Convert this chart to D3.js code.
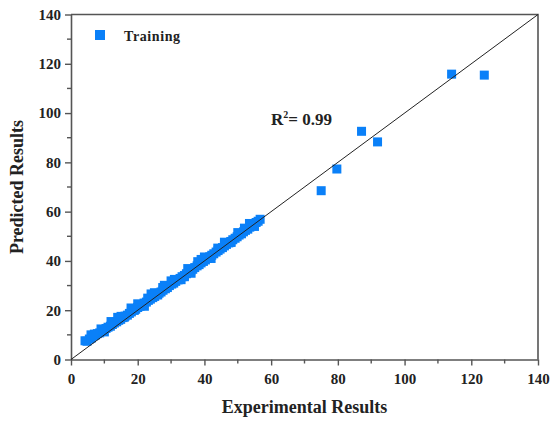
<!DOCTYPE html>
<html>
<head>
<meta charset="utf-8">
<script src="https://cdn.jsdelivr.net/npm/d3@7"></script>
<style>
  html, body { margin: 0; padding: 0; background: #fff; }
  svg { display: block; }
  svg text { font-family: "Liberation Serif", "Times New Roman", "DejaVu Serif", serif !important; font-weight: bold; fill: #222; }
</style>
</head>
<body>
<svg id="chart" width="551" height="426"></svg>
<script>
// Experimental vs predicted values (training set)
const experimental = [
  4.2, 4.8, 5.5, 6.1, 6.8, 7.3, 7.9, 8.6, 9.2, 9.9, 10.5, 11.1, 11.8, 12.4, 13.0, 13.7, 14.3, 14.9,
  15.6, 16.2, 16.9, 17.5, 18.1, 18.8, 19.4, 20.0, 20.7, 21.3, 21.9, 22.6, 23.2, 23.8, 24.5, 25.1,
  25.7, 26.4, 27.0, 27.6, 28.3, 28.9, 29.5, 30.2, 30.8, 31.4, 32.1, 32.7, 33.3, 34.0, 34.6, 35.2,
  35.9, 36.5, 37.1, 37.8, 38.4, 39.0, 39.7, 40.3, 40.9, 41.6, 42.2, 42.8, 43.5, 44.1, 44.7, 45.4,
  46.0, 46.6, 47.3, 47.9, 48.5, 49.2, 49.8, 50.4, 51.1, 51.7, 52.3, 53.0, 53.6, 54.2, 54.9, 55.5,
  56.1, 56.7,
  6.0, 9.0, 15.0, 22.0, 27.5, 33.0, 38.0, 44.0, 50.0, 53.5, 55.0,
  7.0, 12.0, 18.0, 20.0, 25.0, 28.0, 30.0, 35.0, 36.0, 40.0, 42.0, 46.0, 16.0, 24.0,
  10.0, 14.0, 19.0, 23.0, 26.0, 31.0, 34.0, 39.0, 48.0, 52.0,
  75.0, 79.7, 87.1, 91.9, 114.1, 123.9
];
const predicted = [
  7.6, 7.4, 8.3, 8.7, 9.6, 9.9, 10.5, 10.8, 11.4, 12.0, 12.6, 13.1, 13.5, 14.2, 14.8, 15.3, 15.9, 16.3,
  17.0, 17.6, 18.0, 18.7, 19.3, 20.0, 20.4, 21.1, 21.6, 22.2, 22.9, 23.3, 24.0, 24.5, 25.1, 25.6,
  26.3, 26.9, 27.4, 28.1, 28.7, 29.2, 30.0, 30.6, 31.0, 31.7, 32.3, 32.9, 33.6, 34.1, 34.8, 35.4,
  36.1, 36.6, 37.3, 38.0, 38.5, 39.2, 39.8, 40.4, 41.0, 41.7, 42.3, 42.9, 43.6, 44.2, 44.8, 45.4,
  46.1, 46.7, 47.3, 47.9, 48.6, 49.2, 49.8, 50.5, 51.0, 51.8, 52.4, 52.9, 53.7, 54.3, 54.8, 55.6,
  56.1, 56.9,
  10.0, 12.4, 17.5, 21.6, 29.2, 32.4, 39.7, 45.2, 51.5, 55.2, 54.0,
  10.3, 15.4, 20.9, 22.6, 27.1, 30.1, 31.9, 36.9, 35.0, 41.6, 41.0, 47.6, 17.2, 26.6,
  11.2, 17.1, 20.0, 24.9, 26.2, 32.5, 33.6, 40.6, 47.5, 53.3,
  68.5, 77.3, 92.6, 88.3, 115.8, 115.4
];
const xTicks = [0, 20, 40, 60, 80, 100, 120, 140];
const yTicks = [0, 20, 40, 60, 80, 100, 120, 140];
const minorTicks = [10, 30, 50, 70, 90, 110, 130];
const legendLabel = "Training";
const r2Value = "0.99";

const svg = d3.select("#chart");
const margin = { left: 71, right: 13, top: 14.5, bottom: 66.5 };
const W = 551, H = 426;
const x = d3.scaleLinear().domain([0, 140]).range([margin.left, W - margin.right]);
const y = d3.scaleLinear().domain([0, 140]).range([H - margin.bottom, margin.top]);

const axisColor = "#555";
const pointColor = "#0a80f8";
const serif = '"Liberation Serif", "Times New Roman", serif';

// frame (top and right)
svg.append("path")
  .attr("d", `M${x(0)},${y(140)}H${x(140)}V${y(0)}`)
  .attr("fill", "none").attr("stroke", axisColor).attr("stroke-width", 1.6);

// bottom axis
const gx = svg.append("g").attr("transform", `translate(0,${y(0)})`)
  .call(d3.axisBottom(x).tickValues(xTicks).tickSize(6).tickPadding(6).tickSizeOuter(0));
gx.append("g").selectAll("line").data(minorTicks).join("line")
  .attr("x1", d => x(d)).attr("x2", d => x(d)).attr("y1", 0).attr("y2", 4)
  .attr("stroke", axisColor).attr("stroke-width", 1.4);

// left axis
const gy = svg.append("g").attr("transform", `translate(${x(0)},0)`)
  .call(d3.axisLeft(y).tickValues(yTicks).tickSize(6).tickPadding(4).tickSizeOuter(0));
gy.append("g").selectAll("line").data(minorTicks).join("line")
  .attr("y1", d => y(d)).attr("y2", d => y(d)).attr("x1", 0).attr("x2", -4)
  .attr("stroke", axisColor).attr("stroke-width", 1.4);

[gx, gy].forEach(g => {
  g.attr("font-family", serif).attr("font-size", 15);
  g.select(".domain").attr("stroke", axisColor).attr("stroke-width", 1.6);
  g.selectAll(".tick line").attr("stroke", axisColor).attr("stroke-width", 1.4);
  g.selectAll(".tick text").attr("font-family", serif).attr("font-weight", "bold")
    .style("font-size", "15px").attr("fill", "#222");
});
gx.selectAll(".tick text").attr("dy", "0.85em");

// points
const pts = experimental.map((v, i) => [v, predicted[i]]);
const s = 9;
svg.append("g").selectAll("rect").data(pts).join("rect")
  .attr("x", d => x(d[0]) - s / 2).attr("y", d => y(d[1]) - s / 2)
  .attr("width", s).attr("height", s).attr("fill", pointColor);

// y = x reference line
svg.append("line")
  .attr("x1", x(0)).attr("y1", y(0)).attr("x2", x(140)).attr("y2", y(140))
  .attr("stroke", "#222").attr("stroke-width", 1);

// legend
svg.append("rect").attr("x", 95).attr("y", 30).attr("width", 10).attr("height", 10).attr("fill", pointColor);
svg.append("text").attr("x", 124).attr("y", 40.5).style("font-size", "14px").style("letter-spacing", "0.6px").text(legendLabel);

// R² annotation
const rt = svg.append("text").attr("x", 271).attr("y", 125).style("font-size", "17px");
rt.append("tspan").text("R");
rt.append("tspan").attr("dy", -7).style("font-size", "10px").text("2");
rt.append("tspan").attr("dy", 7).text("= " + r2Value);

// axis titles
svg.append("text").attr("x", (x(0) + x(140)) / 2).attr("y", 413)
  .attr("text-anchor", "middle").style("font-size", "18px").text("Experimental Results");
svg.append("text").attr("transform", `translate(23,${(y(0) + y(140)) / 2}) rotate(-90)`)
  .attr("text-anchor", "middle").style("font-size", "18px").text("Predicted Results");
</script>
</body>
</html>
